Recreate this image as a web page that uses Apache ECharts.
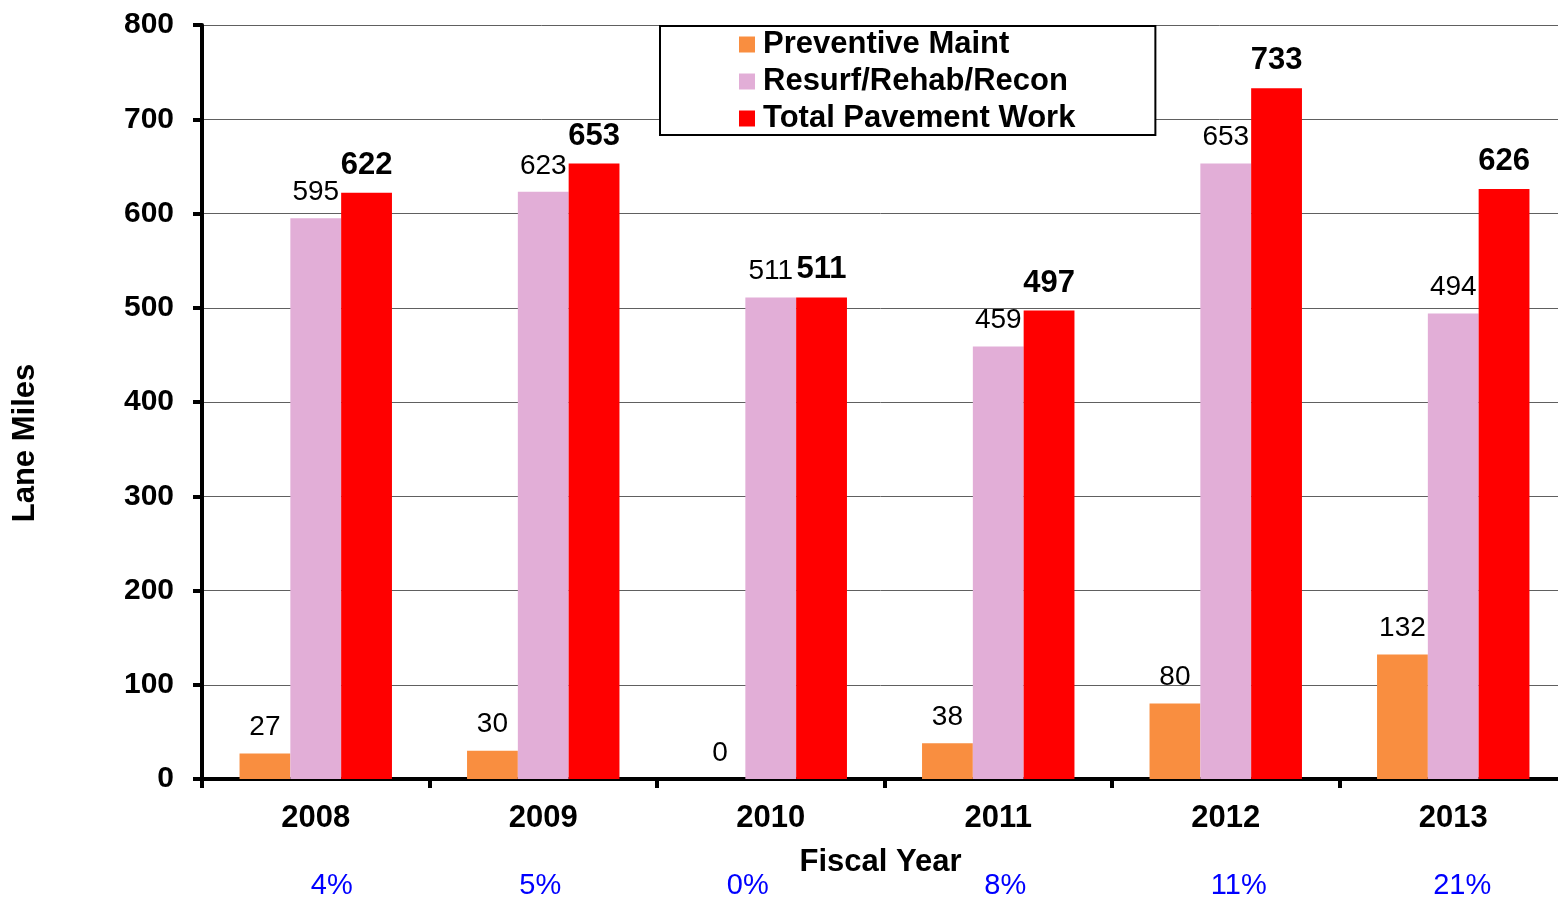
<!DOCTYPE html>
<html>
<head>
<meta charset="utf-8">
<style>
  html, body { margin: 0; padding: 0; background: #fff; overflow: hidden; }
  #chart { width: 1558px; height: 901px; }
</style>
<script src="https://cdn.jsdelivr.net/npm/echarts@6/dist/echarts.min.js"></script>
</head>
<body>
<div id="chart"></div>
<script>
// Lane miles of pavement work by fiscal year
const years = ['2008', '2009', '2010', '2011', '2012', '2013'];
const preventiveMaint = [27, 30, 0, 38, 80, 132];
const resurfRehabRecon = [595, 623, 511, 459, 653, 494];
const totalPavementWork = [622, 653, 511, 497, 733, 626];
const preventiveShare = ['4%', '5%', '0%', '8%', '11%', '21%'];
const yTicks = { min: 0, max: 800, interval: 100 };

// horizontal nudge (px) of each share label from its year's centre
const shareNudge = [16, -3, -23, 7, 13, 9];

const FONT = '"Liberation Sans", Arial, sans-serif';
const chart = echarts.init(document.getElementById('chart'));

const plainLabel = {
  show: true, position: 'top', distance: 12,
  color: '#000', fontFamily: FONT, fontSize: 28, fontWeight: 'normal'
};
const boldLabel = {
  show: true, position: 'top', distance: 12,
  color: '#000', fontFamily: FONT, fontSize: 31, fontWeight: 'bold'
};

const shareData = preventiveShare.map((s, i) => ({
  value: s,
  textStyle: {
    padding: shareNudge[i] >= 0 ? [0, 0, 0, 2 * shareNudge[i]] : [0, -2 * shareNudge[i], 0, 0]
  }
}));

chart.setOption({
  animation: false,
  backgroundColor: '#fff',
  grid: {
    left: 202, width: 1365, top: 25, height: 754,
    containLabel: false, outerBoundsMode: 'none'
  },
  legend: {
    orient: 'vertical',
    left: 660, top: 26,
    padding: [3, 80, 1, 79],
    borderColor: '#000', borderWidth: 2,
    backgroundColor: '#fff',
    itemWidth: 16, itemHeight: 16, itemGap: 6,
    icon: 'rect',
    textStyle: { fontFamily: FONT, fontSize: 31, fontWeight: 'bold', color: '#000', padding: [0, 0, 0, 3] },
    data: ['Preventive Maint', 'Resurf/Rehab/Recon', 'Total Pavement Work']
  },
  xAxis: [{
    type: 'category',
    data: years,
    boundaryGap: true,
    name: 'Fiscal Year',
    nameLocation: 'middle',
    nameGap: 68,
    nameTextStyle: { fontFamily: FONT, fontSize: 31, fontWeight: 'bold', color: '#000', padding: [0, 8, 0, 0] },
    axisLine: { lineStyle: { color: '#000', width: 4 } },
    axisTick: { show: true, alignWithLabel: false, length: 9, lineStyle: { color: '#000', width: 4 } },
    axisLabel: { margin: 24, fontFamily: FONT, fontSize: 31, fontWeight: 'bold', color: '#000' },
    splitLine: { show: false }
  }, {
    type: 'category',
    data: shareData,
    position: 'bottom',
    offset: 92,
    axisLine: { show: false },
    axisTick: { show: false },
    axisLabel: { margin: 0, fontFamily: FONT, fontSize: 29, color: '#0000FF' },
    splitLine: { show: false }
  }],
  yAxis: {
    type: 'value',
    min: yTicks.min, max: yTicks.max, interval: yTicks.interval,
    axisLine: { show: true, lineStyle: { color: '#000', width: 4 } },
    axisTick: { show: true, length: 9, lineStyle: { color: '#000', width: 4 } },
    axisLabel: { margin: 28, fontFamily: FONT, fontSize: 30, fontWeight: 'bold', color: '#000' },
    splitLine: { show: true, lineStyle: { color: '#606060', width: 1 } }
  },
  series: [{
    name: 'Preventive Maint', type: 'bar',
    data: preventiveMaint,
    barGap: '0%', barCategoryGap: '33%',
    itemStyle: { color: '#F98E40' },
    label: plainLabel
  }, {
    name: 'Resurf/Rehab/Recon', type: 'bar',
    data: resurfRehabRecon,
    barGap: '0%', barCategoryGap: '33%',
    itemStyle: { color: '#E2AED7' },
    label: plainLabel
  }, {
    name: 'Total Pavement Work', type: 'bar',
    data: totalPavementWork,
    barGap: '0%', barCategoryGap: '33%',
    itemStyle: { color: '#FF0000' },
    label: boldLabel
  }],
  graphic: [{
    type: 'text',
    x: 25, y: 443,
    rotation: Math.PI / 2,
    style: {
      text: 'Lane Miles',
      font: 'bold 31px ' + FONT,
      fill: '#000',
      textAlign: 'center',
      textVerticalAlign: 'middle'
    }
  }]
});
</script>
</body>
</html>
